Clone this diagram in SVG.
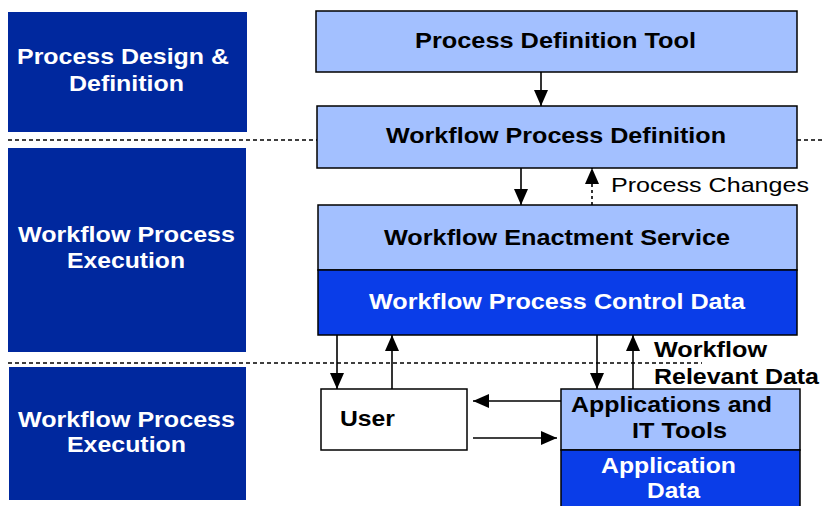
<svg xmlns="http://www.w3.org/2000/svg" width="822" height="506" viewBox="0 0 822 506">
<style>
.side{fill:#00289E}
.light{fill:#A3C0FF;stroke:#000;stroke-width:1.5}
.dark{fill:#0A3DE8;stroke:#000;stroke-width:1.5}
.white{fill:#fff;stroke:#000;stroke-width:1.5}
text{font-family:"Liberation Sans",Arial,sans-serif}
.b{font-weight:bold;font-size:22px;fill:#000}
.bw{font-weight:bold;font-size:22px;fill:#fff}
.n{font-size:21px;fill:#000}
.sep{stroke:#000;stroke-width:1.3;stroke-dasharray:4,3;fill:none}
.ln{stroke:#000;stroke-width:1.6;fill:none}
</style>
<defs>
<marker id="ah" markerUnits="userSpaceOnUse" markerWidth="16" markerHeight="14" refX="16" refY="7" orient="auto">
<path d="M0,0 L16,7 L0,14 Z" fill="#000"/>
</marker>
</defs>
<g id="separators">
<line class="sep" x1="8" y1="140" x2="317" y2="140"/>
<line class="sep" x1="797" y1="140" x2="822" y2="140"/>
<line class="sep" x1="8" y1="363" x2="702" y2="363"/>
</g>
<g id="lane1">
<rect class="side" x="8" y="12" width="239" height="120"/>
<text class="bw" x="17" y="64" textLength="212" lengthAdjust="spacingAndGlyphs">Process Design &amp;</text>
<text class="bw" x="69" y="91" textLength="115" lengthAdjust="spacingAndGlyphs">Definition</text>
</g>
<g id="lane2">
<rect class="side" x="8" y="148" width="238" height="204"/>
<text class="bw" x="18" y="242" textLength="217" lengthAdjust="spacingAndGlyphs">Workflow Process</text>
<text class="bw" x="67" y="268" textLength="118" lengthAdjust="spacingAndGlyphs">Execution</text>
</g>
<g id="lane3">
<rect class="side" x="9" y="367" width="237" height="133"/>
<text class="bw" x="18" y="427" textLength="217" lengthAdjust="spacingAndGlyphs">Workflow Process</text>
<text class="bw" x="67" y="452" textLength="119" lengthAdjust="spacingAndGlyphs">Execution</text>
</g>
<g id="pdt">
<rect class="light" x="316" y="11" width="481" height="61"/>
<text class="b" x="415" y="48" textLength="281" lengthAdjust="spacingAndGlyphs">Process Definition Tool</text>
</g>
<g id="wpd">
<rect class="light" x="317" y="106" width="480" height="62"/>
<text class="b" x="386" y="143" textLength="340" lengthAdjust="spacingAndGlyphs">Workflow Process Definition</text>
</g>
<g id="wes">
<rect class="light" x="318" y="205" width="479" height="65"/>
<text class="b" x="384" y="245" textLength="346" lengthAdjust="spacingAndGlyphs">Workflow Enactment Service</text>
<rect class="dark" x="318" y="270" width="479" height="65"/>
<text class="bw" x="369" y="309" textLength="376" lengthAdjust="spacingAndGlyphs">Workflow Process Control Data</text>
</g>
<g id="user">
<rect class="white" x="321" y="389" width="146" height="61"/>
<text class="b" x="340" y="426" textLength="55" lengthAdjust="spacingAndGlyphs">User</text>
</g>
<g id="apps">
<rect class="light" x="561" y="389" width="239" height="61"/>
<text class="b" x="571" y="412" textLength="201" lengthAdjust="spacingAndGlyphs">Applications and</text>
<text class="b" x="632" y="438" textLength="95" lengthAdjust="spacingAndGlyphs">IT Tools</text>
<rect class="dark" x="561" y="450" width="239" height="60"/>
<text class="bw" x="601" y="473" textLength="135" lengthAdjust="spacingAndGlyphs">Application</text>
<text class="bw" x="647" y="498" textLength="53" lengthAdjust="spacingAndGlyphs">Data</text>
</g>
<g id="connectors">
<line class="ln" x1="541" y1="72" x2="541" y2="106" marker-end="url(#ah)"/>
<line class="ln" x1="521" y1="168" x2="521" y2="205" marker-end="url(#ah)"/>
<line class="ln" x1="592" y1="205" x2="592" y2="168" marker-end="url(#ah)" stroke-dasharray="3,3"/>
<line class="ln" x1="337" y1="335" x2="337" y2="389" marker-end="url(#ah)"/>
<line class="ln" x1="392" y1="389" x2="392" y2="335" marker-end="url(#ah)"/>
<line class="ln" x1="597" y1="335" x2="597" y2="389" marker-end="url(#ah)"/>
<line class="ln" x1="633" y1="389" x2="633" y2="335" marker-end="url(#ah)"/>
<line class="ln" x1="561" y1="401" x2="473" y2="401" marker-end="url(#ah)"/>
<line class="ln" x1="473" y1="438" x2="557" y2="438" marker-end="url(#ah)"/>
</g>
<g id="labels">
<text class="n" x="611" y="192" textLength="198" lengthAdjust="spacingAndGlyphs">Process Changes</text>
<text class="b" x="654" y="357" textLength="113" lengthAdjust="spacingAndGlyphs">Workflow</text>
<text class="b" x="654" y="384" textLength="165" lengthAdjust="spacingAndGlyphs">Relevant Data</text>
</g>
</svg>
